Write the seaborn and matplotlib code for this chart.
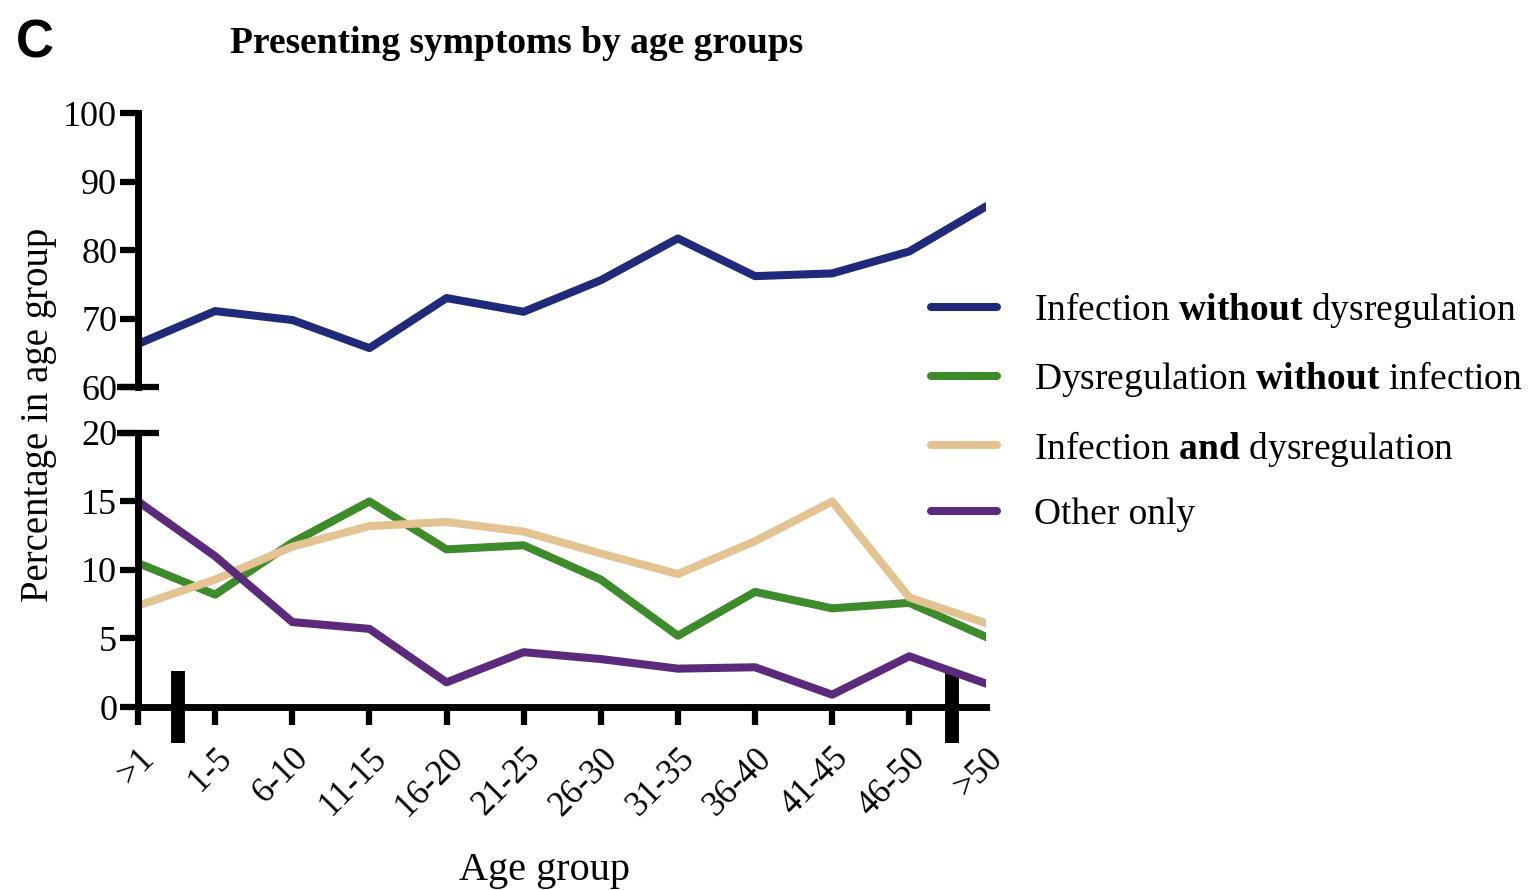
import numpy as np
import pandas as pd
import matplotlib
matplotlib.use('Agg')
import matplotlib.pyplot as plt
import seaborn as sns

# data
age_groups = ['>1', '1-5', '6-10', '11-15', '16-20', '21-25', '26-30',
              '31-35', '36-40', '41-45', '46-50', '>50']
inf_no_dys = [66.3, 71.1, 69.8, 65.7, 73.0, 71.0, 75.6, 81.7, 76.2, 76.6, 79.8, 86.4]
dys_no_inf = [10.5, 8.2, 12.0, 15.0, 11.5, 11.8, 9.3, 5.2, 8.4, 7.2, 7.6, 5.1]
inf_and_dys = [7.4, 9.3, 11.7, 13.2, 13.5, 12.8, 11.2, 9.7, 12.1, 15.0, 8.0, 6.1]
other_only = [15.0, 11.0, 6.2, 5.7, 1.8, 4.0, 3.5, 2.8, 2.9, 0.9, 3.7, 1.7]

series = ['Infection without dysregulation', 'Dysregulation without infection',
          'Infection and dysregulation', 'Other only']
legend_labels = [r'Infection $\mathbf{without}$ dysregulation',
                 r'Dysregulation $\mathbf{without}$ infection',
                 r'Infection $\mathbf{and}$ dysregulation',
                 'Other only']
colors = ['#1f2a7a', '#3d8b2b', '#e3c391', '#5b2a7c']

top_ticks = [60, 70, 80, 90, 100]
bottom_ticks = [0, 5, 10, 15, 20]

sns.set_style('ticks')
plt.rcParams['font.family'] = ['Liberation Serif', 'DejaVu Serif']
plt.rcParams['mathtext.fontset'] = 'custom'
plt.rcParams['mathtext.rm'] = 'Liberation Serif'
plt.rcParams['mathtext.bf'] = 'Liberation Serif:bold'
for k in ('text.color', 'axes.labelcolor', 'axes.edgecolor', 'xtick.color', 'ytick.color'):
    plt.rcParams[k] = 'black'

values = [inf_no_dys, dys_no_inf, inf_and_dys, other_only]
rows = []
for name, vals in zip(series, values):
    for i, v in enumerate(vals):
        rows.append({'pos': i, 'group': age_groups[i], 'series': name, 'pct': v})
df = pd.DataFrame(rows)
palette = dict(zip(series, colors))

fig = plt.figure(figsize=(15.34, 8.9), dpi=100)
left, right = 0.09, 0.643
ax_top = fig.add_axes([left, 0.565, right - left, 0.308])
ax_bot = fig.add_axes([left, 0.2056, right - left, 0.308])

lw = 5.8
spine_w = 5.0
tick_w = 4.5
tick_len = 13
fs = 26

for ax in (ax_top, ax_bot):
    sns.lineplot(data=df, x='pos', y='pct', hue='series', palette=palette,
                 hue_order=series, linewidth=lw, legend=False, ax=ax, sort=False)
    ax.set_xlim(0, 11)
    ax.set_xlabel('')
    ax.set_ylabel('')
    for s in ('top', 'right'):
        ax.spines[s].set_visible(False)
    ax.spines['left'].set_linewidth(spine_w)
    ax.spines['bottom'].set_linewidth(spine_w)
    ax.tick_params(axis='y', which='major', direction='out', length=tick_len,
                   width=tick_w, labelsize=fs, pad=2)
    ax.yaxis.remove_overlapping_locs = False

# top panel
ax_top.set_ylim(60, 100)
ax_top.set_yticks(top_ticks)
ax_top.spines['bottom'].set_visible(False)
ax_top.tick_params(axis='x', which='both', bottom=False, labelbottom=False)
ax_top.set_yticks([60], minor=True)
ax_top.tick_params(axis='y', which='minor', direction='inout', length=2 * tick_len + 4,
                   width=tick_w)

# bottom panel
ax_bot.set_ylim(0, 20)
ax_bot.set_yticks(bottom_ticks)
ax_bot.set_yticks([20], minor=True)
ax_bot.tick_params(axis='y', which='minor', direction='inout', length=2 * tick_len + 4,
                   width=tick_w)
ax_bot.set_xticks(range(len(age_groups)))
ax_bot.set_xticklabels(age_groups, rotation=45, ha='right', rotation_mode='anchor')
ax_bot.tick_params(axis='x', which='major', direction='out', length=tick_len,
                   width=tick_w, labelsize=25, pad=12)
ax_bot.xaxis.get_major_ticks()[-1].tick1line.set_visible(False)
# axis segment markers
ax_bot.set_xticks([0.52, 10.55], minor=True)
ax_bot.tick_params(axis='x', which='minor', direction='inout', length=52, width=10)

# legend
handles = [plt.Line2D([], [], color=c, linewidth=lw) for c in colors]
fig.legend(handles, legend_labels, loc='upper left', bbox_to_anchor=(0.585, 0.712),
           frameon=False, fontsize=27, handlelength=1.75, handletextpad=1.0,
           labelspacing=0.78)

fig.text(0.025, 0.534, 'Percentage in age group', rotation=90, ha='center',
         va='center', fontsize=28)
fig.text(0.355, 0.022, 'Age group', ha='center', va='center', fontsize=29)
fig.text(0.337, 0.951, 'Presenting symptoms by age groups', ha='center', va='center',
         fontsize=27, fontweight='bold')
fig.text(0.023, 0.951, 'C', ha='center', va='center', fontsize=38, fontweight='bold',
         family=['Liberation Sans', 'DejaVu Sans'])

fig.savefig('out.png', dpi=100)
